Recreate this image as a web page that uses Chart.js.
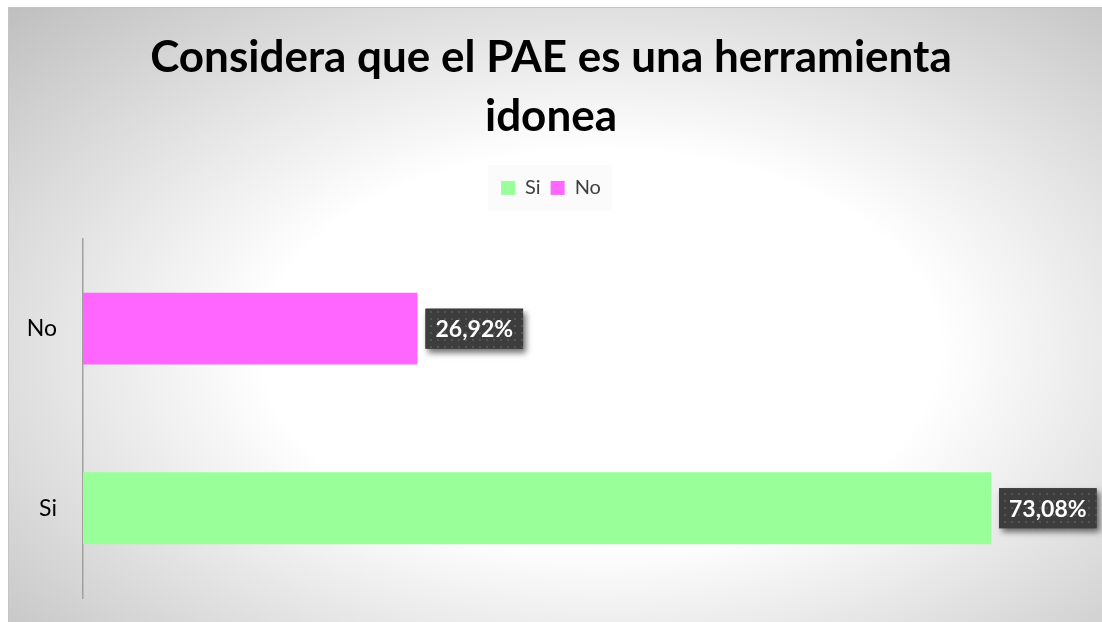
<!DOCTYPE html>
<html>
<head>
<meta charset="utf-8">
<title>Considera que el PAE es una herramienta idonea</title>
<script src="https://cdn.jsdelivr.net/npm/chart.js@4.4.1/dist/chart.umd.min.js"></script>
<style>
    html, body { margin: 0; padding: 0; background: #fff; }
    #wrap { width: 1102px; height: 622px; }
</style>
</head>
<body>
<div id="wrap"><canvas id="paeChart" width="1102" height="622"></canvas></div>
<script>
// Datos del grafico
const categories = ['Si', 'No'];
const percentages = [73.08, 26.92];
const barColors = ['#99FF99', '#FF66FF'];
const chartTitle = ['Considera que el PAE es una herramienta', 'idonea'];

function formatPct(v) {
    return v.toFixed(2).replace('.', ',') + '%';
}

// Fondo con degradado radial y marco
const backgroundPlugin = {
    id: 'paeBackground',
    beforeDraw(chart) {
        const { ctx, width, height } = chart;
        ctx.save();
        ctx.fillStyle = '#ffffff';
        ctx.fillRect(0, 0, width, height);

        const fx = 8, fy = 7;
        const cx = width * 0.545, cy = height * 0.56;
        const rx = 650, ry = 380;
        const k = rx / ry;

        ctx.save();
        ctx.translate(cx, cy);
        ctx.scale(1, 1 / k);
        const g = ctx.createRadialGradient(0, 0, 0, 0, 0, rx * 1.3);
        g.addColorStop(0, '#ffffff');
        g.addColorStop(0.4, '#ffffff');
        g.addColorStop(1, '#bdbdbd');
        ctx.fillStyle = g;
        ctx.fillRect(fx - cx, (fy - cy) * k, width - fx, (height - fy) * k);
        ctx.restore();

        ctx.strokeStyle = '#c4c4c4';
        ctx.lineWidth = 1;
        ctx.strokeRect(fx + 0.5, fy + 0.5, width - fx, height - fy);

        // Caja clara detras de la leyenda
        const boxes = chart.legend && chart.legend.legendHitBoxes;
        if (boxes && boxes.length) {
            const first = boxes[0];
            const last = boxes[boxes.length - 1];
            ctx.fillStyle = 'rgba(250,250,250,0.85)';
            ctx.fillRect(first.left - 13, first.top - 13, last.left + last.width - first.left + 24, first.height + 26);
        }
        ctx.restore();
    }
};

// Patron punteado para las etiquetas
function makeDotPattern(ctx) {
    const c = document.createElement('canvas');
    c.width = 7;
    c.height = 7;
    const p = c.getContext('2d');
    p.fillStyle = '#3d3d3d';
    p.fillRect(0, 0, 7, 7);
    p.fillStyle = '#545454';
    p.fillRect(3, 3, 2, 2);
    return ctx.createPattern(c, 'repeat');
}

// Etiquetas de datos con caja oscura y sombra
const dataLabelPlugin = {
    id: 'paeLabels',
    afterDatasetsDraw(chart) {
        const ctx = chart.ctx;
        const meta = chart.getDatasetMeta(0);
        const pattern = makeDotPattern(ctx);
        meta.data.forEach((bar, i) => {
            const text = formatPct(percentages[i]);
            ctx.save();
            ctx.font = 'bold 23px Lato';
            const tw = ctx.measureText(text).width;
            const bw = tw + 20, bh = 40;
            const bx = bar.x + 8, by = bar.y - bh / 2;

            ctx.shadowColor = 'rgba(0,0,0,0.55)';
            ctx.shadowBlur = 6;
            ctx.shadowOffsetX = 3;
            ctx.shadowOffsetY = 4;
            ctx.fillStyle = '#3d3d3d';
            ctx.fillRect(bx, by, bw, bh);
            ctx.shadowColor = 'transparent';

            ctx.fillStyle = pattern;
            ctx.fillRect(bx, by, bw, bh);

            ctx.fillStyle = '#ffffff';
            ctx.textAlign = 'center';
            ctx.textBaseline = 'middle';
            ctx.fillText(text, bx + bw / 2, bar.y + 1);
            ctx.restore();
        });
    }
};

function buildChart() {
    const ctx = document.getElementById('paeChart').getContext('2d');
    new Chart(ctx, {
        type: 'bar',
        data: {
            labels: categories,
            datasets: [{
                data: percentages,
                backgroundColor: barColors,
                borderWidth: 0,
                barPercentage: 0.5,
                categoryPercentage: 0.8
            }]
        },
        options: {
            indexAxis: 'y',
            responsive: false,
            animation: false,
            layout: {
                padding: { left: 25, right: 25, top: 0, bottom: 24 }
            },
            scales: {
                x: {
                    position: 'top',
                    min: 0,
                    max: 80,
                    grid: { display: false, drawTicks: false },
                    border: { display: false },
                    ticks: { display: false },
                    afterFit(scale) { scale.height = 31; }
                },
                y: {
                    reverse: true,
                    grid: { display: false, drawTicks: false },
                    border: { display: true, color: '#a0a0a0', width: 1.5 },
                    ticks: {
                        color: '#000000',
                        font: { family: 'Lato', size: 23 },
                        padding: 26
                    },
                    afterFit(scale) {
                        scale.width = 58;
                        // sin margen extra arriba/abajo por las etiquetas
                        scale.paddingTop = 0;
                        scale.paddingBottom = 0;
                    }
                }
            },
            plugins: {
                title: {
                    display: true,
                    text: chartTitle,
                    color: '#000000',
                    font: { family: 'Lato', size: 44, weight: 'bold', lineHeight: 1.34 },
                    padding: { top: 28, bottom: 22 }
                },
                legend: {
                    display: true,
                    position: 'top',
                    onClick: null,
                    labels: {
                        boxWidth: 14,
                        boxHeight: 14,
                        padding: 10,
                        color: '#404040',
                        font: { family: 'Lato', size: 20 },
                        generateLabels() {
                            return categories.map((c, i) => ({
                                text: c,
                                fillStyle: barColors[i],
                                strokeStyle: barColors[i],
                                lineWidth: 0,
                                fontColor: '#404040',
                                index: i
                            }));
                        }
                    }
                },
                tooltip: { enabled: false }
            }
        },
        plugins: [backgroundPlugin, dataLabelPlugin]
    });
}

Promise.all([
    document.fonts.load('bold 44px Lato'),
    document.fonts.load('23px Lato'),
    document.fonts.load('bold 23px Lato')
]).then(buildChart, buildChart);
</script>
</body>
</html>
